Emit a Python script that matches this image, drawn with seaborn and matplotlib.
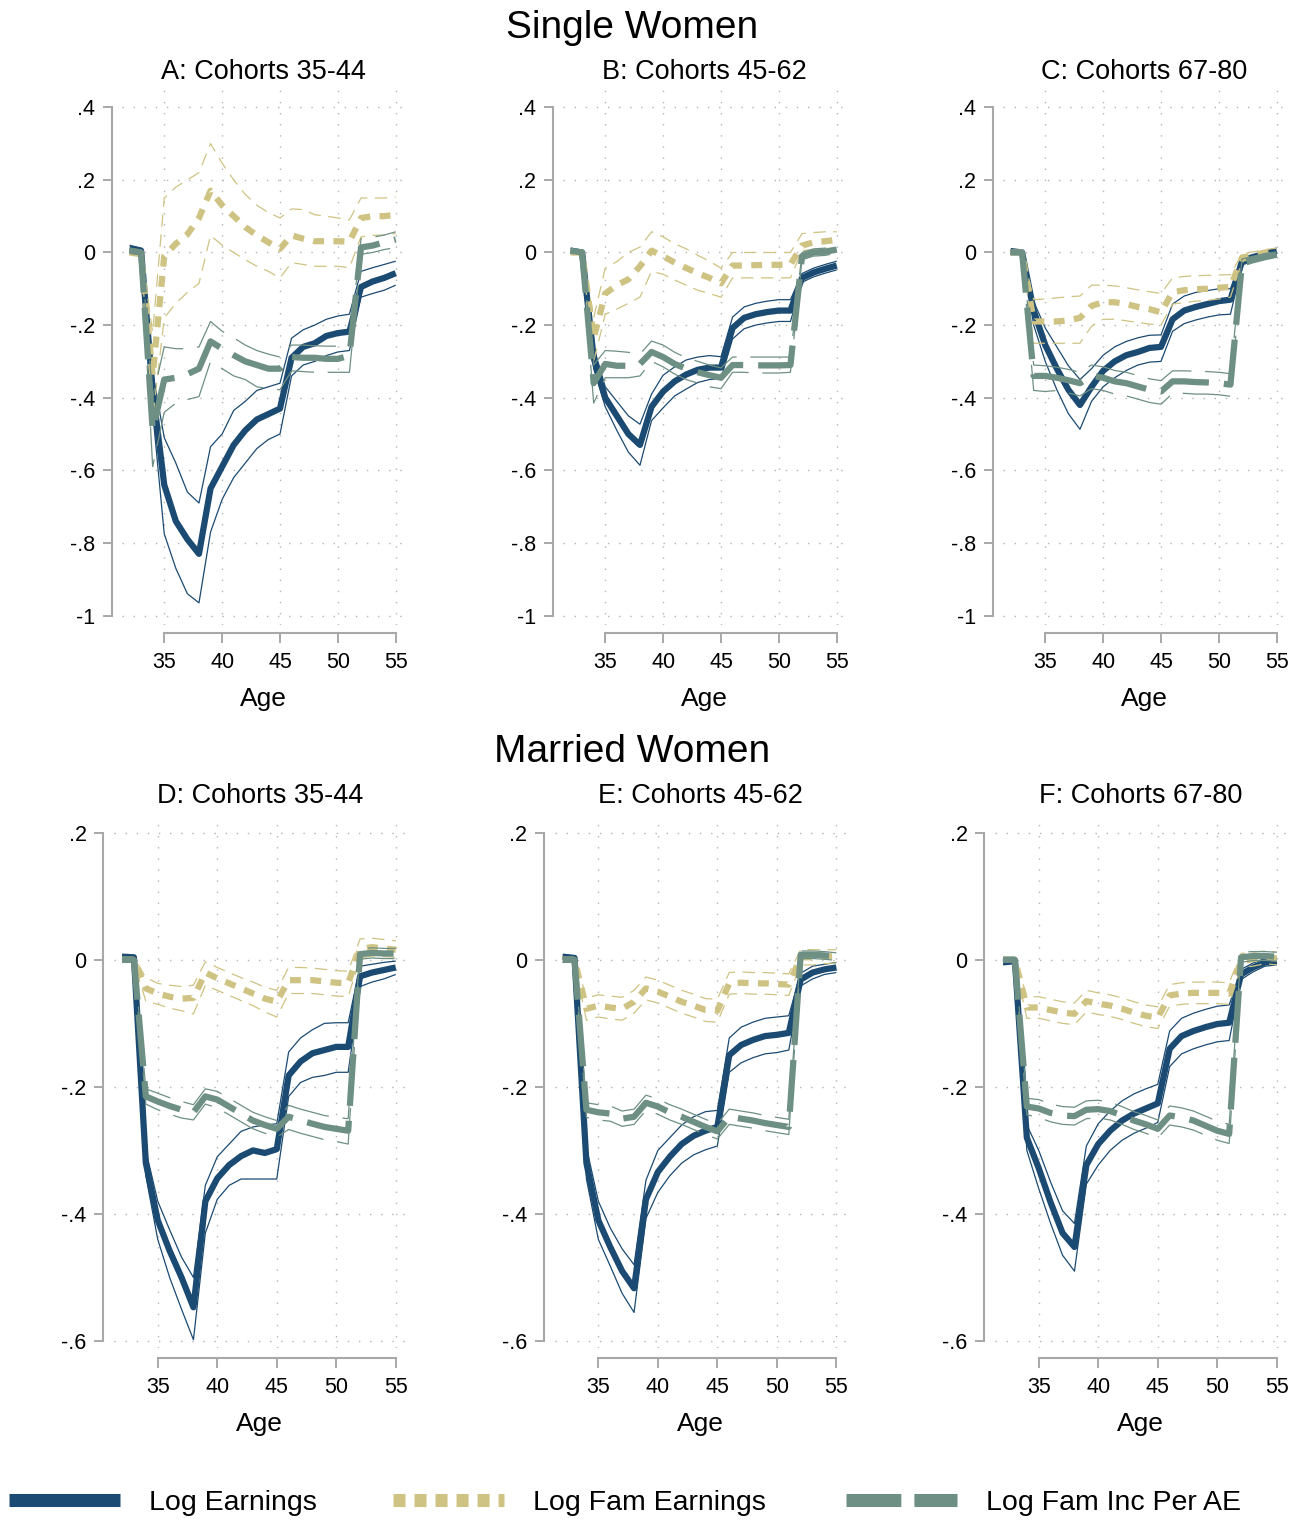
import matplotlib
matplotlib.use('Agg')
import numpy as np
import pandas as pd
import matplotlib.pyplot as plt
from matplotlib.lines import Line2D
import seaborn as sns

ages = list(range(32, 56))

# ---------------- Single women ----------------
earnA = [0.01, 0.005, -0.38, -0.64, -0.74, -0.79, -0.83, -0.65, -0.59, -0.53, -0.49, -0.46, -0.445, -0.43, -0.29, -0.26, -0.25, -0.23, -0.222, -0.218, -0.095, -0.08, -0.07, -0.057]
earnA_hi = [0.02, 0.012, -0.33, -0.51, -0.58, -0.66, -0.69, -0.535, -0.50, -0.435, -0.41, -0.38, -0.37, -0.36, -0.236, -0.213, -0.20, -0.184, -0.175, -0.17, -0.052, -0.042, -0.033, -0.024]
earnA_lo = [0.0, -0.005, -0.44, -0.775, -0.87, -0.94, -0.965, -0.77, -0.68, -0.62, -0.58, -0.54, -0.515, -0.50, -0.34, -0.31, -0.30, -0.284, -0.274, -0.27, -0.123, -0.113, -0.104, -0.09]
famA = [0.0, -0.005, -0.34, -0.01, 0.024, 0.05, 0.095, 0.17, 0.13, 0.10, 0.07, 0.047, 0.028, 0.01, 0.047, 0.038, 0.031, 0.031, 0.031, 0.03, 0.095, 0.10, 0.10, 0.104]
famA_hi = [0.005, 0.005, -0.22, 0.15, 0.18, 0.20, 0.22, 0.30, 0.246, 0.20, 0.16, 0.13, 0.11, 0.095, 0.12, 0.118, 0.104, 0.10, 0.095, 0.09, 0.15, 0.15, 0.15, 0.153]
famA_lo = [-0.005, -0.01, -0.46, -0.18, -0.14, -0.11, -0.085, 0.047, 0.02, 0.0, -0.02, -0.038, -0.052, -0.07, -0.028, -0.033, -0.038, -0.038, -0.038, -0.042, 0.043, 0.047, 0.048, 0.052]
incA = [0.005, 0.0, -0.49, -0.35, -0.345, -0.335, -0.32, -0.245, -0.265, -0.283, -0.30, -0.31, -0.32, -0.32, -0.288, -0.29, -0.29, -0.293, -0.293, -0.284, 0.014, 0.019, 0.028, 0.036]
incA_hi = [0.012, 0.007, -0.40, -0.26, -0.265, -0.265, -0.26, -0.19, -0.217, -0.235, -0.255, -0.27, -0.28, -0.288, -0.255, -0.255, -0.257, -0.258, -0.258, -0.258, 0.038, 0.042, 0.048, 0.057]
incA_lo = [-0.002, -0.007, -0.59, -0.44, -0.415, -0.405, -0.397, -0.30, -0.32, -0.34, -0.35, -0.37, -0.375, -0.378, -0.326, -0.328, -0.33, -0.33, -0.33, -0.33, -0.005, 0.0, 0.008, 0.014]

earnB = [0.005, 0.0, -0.29, -0.40, -0.45, -0.50, -0.53, -0.425, -0.383, -0.355, -0.336, -0.323, -0.317, -0.317, -0.208, -0.18, -0.17, -0.164, -0.16, -0.16, -0.07, -0.055, -0.045, -0.036]
earnB_hi = [0.012, 0.005, -0.26, -0.37, -0.41, -0.45, -0.473, -0.39, -0.338, -0.315, -0.296, -0.288, -0.284, -0.287, -0.178, -0.15, -0.14, -0.134, -0.13, -0.13, -0.058, -0.043, -0.033, -0.024]
earnB_lo = [-0.002, -0.005, -0.32, -0.425, -0.49, -0.55, -0.586, -0.463, -0.428, -0.395, -0.376, -0.358, -0.35, -0.347, -0.238, -0.21, -0.2, -0.194, -0.19, -0.19, -0.082, -0.067, -0.057, -0.048]
famB = [0.0, 0.0, -0.236, -0.113, -0.09, -0.074, -0.038, 0.005, -0.01, -0.028, -0.043, -0.057, -0.07, -0.085, -0.036, -0.036, -0.035, -0.034, -0.034, -0.033, 0.019, 0.028, 0.031, 0.035]
famB_hi = [0.005, 0.005, -0.18, -0.043, -0.025, 0.0, 0.015, 0.057, 0.043, 0.024, 0.01, -0.008, -0.024, -0.043, 0.0, 0.0, 0.0, 0.0, 0.0, 0.0, 0.052, 0.055, 0.057, 0.057]
famB_lo = [-0.005, -0.005, -0.30, -0.17, -0.156, -0.14, -0.123, -0.052, -0.06, -0.076, -0.09, -0.104, -0.113, -0.123, -0.07, -0.07, -0.07, -0.07, -0.07, -0.07, 0.005, 0.008, 0.01, 0.014]
incB = [0.005, 0.0, -0.36, -0.307, -0.312, -0.312, -0.307, -0.274, -0.288, -0.307, -0.32, -0.33, -0.338, -0.345, -0.31, -0.31, -0.311, -0.311, -0.311, -0.31, -0.01, 0.0, 0.002, 0.008]
incB_hi = [0.01, 0.005, -0.31, -0.27, -0.272, -0.275, -0.28, -0.244, -0.255, -0.275, -0.29, -0.3, -0.31, -0.318, -0.288, -0.288, -0.288, -0.288, -0.288, -0.288, 0.0, 0.01, 0.012, 0.018]
incB_lo = [0.0, -0.005, -0.415, -0.345, -0.345, -0.345, -0.34, -0.30, -0.315, -0.335, -0.35, -0.36, -0.37, -0.375, -0.33, -0.33, -0.332, -0.332, -0.332, -0.33, -0.02, -0.01, -0.008, -0.002]

earnC = [0.004, 0.0, -0.16, -0.255, -0.32, -0.378, -0.42, -0.37, -0.326, -0.30, -0.283, -0.274, -0.263, -0.26, -0.184, -0.16, -0.15, -0.142, -0.134, -0.13, -0.024, -0.014, -0.005, 0.005]
earnC_hi = [0.008, 0.004, -0.135, -0.208, -0.26, -0.312, -0.35, -0.32, -0.283, -0.26, -0.245, -0.235, -0.228, -0.227, -0.142, -0.12, -0.11, -0.105, -0.1, -0.1, -0.014, -0.005, 0.004, 0.012]
earnC_lo = [0.0, -0.004, -0.2, -0.30, -0.378, -0.444, -0.487, -0.41, -0.37, -0.345, -0.325, -0.31, -0.302, -0.3, -0.217, -0.196, -0.186, -0.178, -0.172, -0.17, -0.034, -0.024, -0.014, -0.004]
famC = [0.0, 0.0, -0.19, -0.19, -0.19, -0.187, -0.18, -0.147, -0.137, -0.137, -0.142, -0.15, -0.156, -0.165, -0.109, -0.104, -0.101, -0.1, -0.097, -0.095, -0.014, -0.008, 0.0, 0.005]
famC_hi = [0.005, 0.005, -0.13, -0.128, -0.125, -0.122, -0.12, -0.09, -0.09, -0.092, -0.097, -0.103, -0.108, -0.113, -0.07, -0.066, -0.064, -0.063, -0.062, -0.061, -0.004, 0.002, 0.008, 0.012]
famC_lo = [-0.005, -0.005, -0.25, -0.25, -0.25, -0.25, -0.25, -0.203, -0.184, -0.184, -0.188, -0.193, -0.197, -0.2, -0.142, -0.138, -0.134, -0.132, -0.128, -0.123, -0.024, -0.018, -0.01, -0.004]
incC = [0.0, 0.0, -0.34, -0.34, -0.345, -0.352, -0.36, -0.34, -0.345, -0.355, -0.36, -0.369, -0.378, -0.383, -0.355, -0.355, -0.357, -0.358, -0.36, -0.364, -0.028, -0.019, -0.011, -0.005]
incC_hi = [0.005, 0.005, -0.31, -0.312, -0.316, -0.322, -0.33, -0.31, -0.315, -0.325, -0.33, -0.339, -0.348, -0.353, -0.326, -0.326, -0.327, -0.328, -0.33, -0.334, -0.018, -0.01, -0.003, 0.003]
incC_lo = [-0.005, -0.005, -0.38, -0.383, -0.38, -0.387, -0.395, -0.375, -0.38, -0.39, -0.395, -0.404, -0.413, -0.418, -0.388, -0.388, -0.39, -0.39, -0.392, -0.396, -0.038, -0.028, -0.02, -0.013]

# ---------------- Married women ----------------
earnD = [0.005, 0.004, -0.32, -0.41, -0.458, -0.50, -0.547, -0.38, -0.344, -0.323, -0.309, -0.30, -0.304, -0.298, -0.182, -0.16, -0.147, -0.142, -0.137, -0.137, -0.026, -0.02, -0.016, -0.012]
earnD_hi = [0.008, 0.007, -0.30, -0.38, -0.425, -0.468, -0.50, -0.355, -0.31, -0.29, -0.27, -0.263, -0.26, -0.258, -0.145, -0.123, -0.11, -0.1, -0.099, -0.099, -0.01, -0.007, -0.004, -0.002]
earnD_lo = [0.002, 0.001, -0.34, -0.44, -0.50, -0.55, -0.598, -0.43, -0.377, -0.355, -0.345, -0.345, -0.345, -0.345, -0.215, -0.193, -0.185, -0.182, -0.177, -0.177, -0.042, -0.035, -0.03, -0.023]
famD = [0.0, 0.0, -0.045, -0.053, -0.058, -0.061, -0.06, -0.02, -0.029, -0.037, -0.045, -0.053, -0.061, -0.066, -0.032, -0.032, -0.032, -0.034, -0.036, -0.037, 0.017, 0.02, 0.018, 0.016]
famD_hi = [0.004, 0.004, -0.028, -0.037, -0.04, -0.042, -0.04, -0.003, -0.012, -0.02, -0.028, -0.035, -0.043, -0.048, -0.012, -0.012, -0.013, -0.015, -0.017, -0.018, 0.033, 0.034, 0.032, 0.03]
famD_lo = [-0.004, -0.004, -0.065, -0.07, -0.076, -0.08, -0.085, -0.04, -0.048, -0.056, -0.064, -0.072, -0.082, -0.09, -0.053, -0.053, -0.053, -0.055, -0.057, -0.058, 0.003, 0.006, 0.005, 0.004]
incD = [0.0, 0.0, -0.215, -0.223, -0.23, -0.236, -0.24, -0.215, -0.22, -0.231, -0.242, -0.253, -0.26, -0.266, -0.247, -0.253, -0.258, -0.263, -0.266, -0.269, 0.009, 0.011, 0.01, 0.01]
incD_hi = [0.004, 0.004, -0.203, -0.21, -0.217, -0.223, -0.228, -0.203, -0.207, -0.218, -0.229, -0.24, -0.247, -0.253, -0.229, -0.235, -0.24, -0.245, -0.248, -0.25, 0.017, 0.019, 0.018, 0.018]
incD_lo = [-0.004, -0.004, -0.227, -0.236, -0.243, -0.249, -0.252, -0.227, -0.233, -0.244, -0.255, -0.266, -0.273, -0.279, -0.267, -0.273, -0.278, -0.283, -0.286, -0.29, 0.001, 0.003, 0.002, 0.002]

earnE = [0.005, 0.003, -0.32, -0.41, -0.452, -0.49, -0.517, -0.377, -0.334, -0.31, -0.29, -0.277, -0.269, -0.263, -0.15, -0.134, -0.126, -0.12, -0.118, -0.115, -0.031, -0.02, -0.015, -0.012]
earnE_hi = [0.008, 0.006, -0.295, -0.38, -0.422, -0.455, -0.48, -0.347, -0.30, -0.28, -0.26, -0.247, -0.239, -0.237, -0.123, -0.106, -0.098, -0.092, -0.09, -0.088, -0.021, -0.01, -0.007, -0.004]
earnE_lo = [0.002, 0.0, -0.345, -0.44, -0.482, -0.525, -0.555, -0.407, -0.366, -0.34, -0.32, -0.307, -0.299, -0.293, -0.177, -0.162, -0.154, -0.148, -0.146, -0.142, -0.041, -0.03, -0.023, -0.02]
famE = [0.0, 0.0, -0.077, -0.072, -0.075, -0.077, -0.066, -0.045, -0.05, -0.058, -0.066, -0.072, -0.079, -0.08, -0.037, -0.036, -0.037, -0.037, -0.038, -0.039, 0.004, 0.004, 0.005, 0.006]
famE_hi = [0.004, 0.004, -0.06, -0.055, -0.057, -0.059, -0.048, -0.027, -0.032, -0.04, -0.048, -0.054, -0.061, -0.062, -0.02, -0.019, -0.02, -0.02, -0.021, -0.022, 0.016, 0.016, 0.016, 0.016]
famE_lo = [-0.004, -0.004, -0.095, -0.09, -0.093, -0.095, -0.084, -0.063, -0.068, -0.076, -0.084, -0.09, -0.097, -0.098, -0.054, -0.053, -0.054, -0.054, -0.055, -0.056, -0.008, -0.008, -0.006, -0.005]
incE = [0.0, 0.0, -0.236, -0.24, -0.242, -0.25, -0.247, -0.225, -0.231, -0.24, -0.247, -0.255, -0.263, -0.27, -0.247, -0.25, -0.253, -0.257, -0.26, -0.263, 0.008, 0.008, 0.007, 0.005]
incE_hi = [0.004, 0.004, -0.225, -0.228, -0.23, -0.238, -0.235, -0.213, -0.219, -0.228, -0.235, -0.243, -0.251, -0.258, -0.235, -0.238, -0.241, -0.245, -0.248, -0.251, 0.014, 0.014, 0.013, 0.011]
incE_lo = [-0.004, -0.004, -0.248, -0.252, -0.254, -0.262, -0.259, -0.237, -0.243, -0.252, -0.259, -0.267, -0.275, -0.282, -0.259, -0.262, -0.265, -0.269, -0.272, -0.275, 0.002, 0.002, 0.001, -0.001]

earnF = [-0.004, -0.002, -0.28, -0.328, -0.382, -0.43, -0.452, -0.323, -0.29, -0.269, -0.253, -0.242, -0.234, -0.226, -0.14, -0.12, -0.112, -0.106, -0.101, -0.099, -0.023, -0.012, -0.004, -0.002]
earnF_hi = [-0.001, 0.001, -0.26, -0.30, -0.35, -0.395, -0.415, -0.293, -0.258, -0.238, -0.222, -0.211, -0.203, -0.196, -0.112, -0.092, -0.084, -0.078, -0.073, -0.071, -0.015, -0.005, 0.002, 0.004]
earnF_lo = [-0.007, -0.005, -0.30, -0.36, -0.415, -0.465, -0.49, -0.353, -0.323, -0.3, -0.284, -0.273, -0.265, -0.256, -0.168, -0.148, -0.14, -0.134, -0.129, -0.127, -0.031, -0.019, -0.01, -0.008]
famF = [0.0, 0.0, -0.075, -0.075, -0.079, -0.083, -0.085, -0.065, -0.069, -0.072, -0.077, -0.083, -0.088, -0.091, -0.056, -0.053, -0.052, -0.052, -0.052, -0.053, -0.002, 0.001, 0.004, 0.002]
famF_hi = [0.004, 0.004, -0.058, -0.058, -0.062, -0.066, -0.068, -0.048, -0.052, -0.055, -0.06, -0.066, -0.071, -0.074, -0.039, -0.036, -0.035, -0.035, -0.035, -0.036, 0.01, 0.012, 0.014, 0.012]
famF_lo = [-0.004, -0.004, -0.092, -0.092, -0.096, -0.1, -0.102, -0.082, -0.086, -0.089, -0.094, -0.1, -0.105, -0.108, -0.073, -0.07, -0.069, -0.069, -0.069, -0.07, -0.012, -0.01, -0.006, -0.008]
incF = [0.0, 0.0, -0.231, -0.234, -0.241, -0.245, -0.246, -0.236, -0.235, -0.238, -0.245, -0.253, -0.259, -0.266, -0.245, -0.248, -0.253, -0.261, -0.269, -0.274, 0.004, 0.006, 0.006, 0.005]
incF_hi = [0.004, 0.004, -0.218, -0.22, -0.227, -0.231, -0.232, -0.222, -0.221, -0.224, -0.231, -0.239, -0.245, -0.252, -0.23, -0.233, -0.238, -0.246, -0.254, -0.259, 0.012, 0.013, 0.013, 0.012]
incF_lo = [-0.004, -0.004, -0.244, -0.248, -0.255, -0.259, -0.26, -0.25, -0.249, -0.252, -0.259, -0.267, -0.273, -0.28, -0.26, -0.263, -0.268, -0.276, -0.284, -0.289, -0.004, -0.001, -0.001, -0.002]

titles = ["A: Cohorts 35-44", "B: Cohorts 45-62", "C: Cohorts 67-80",
          "D: Cohorts 35-44", "E: Cohorts 45-62", "F: Cohorts 67-80"]
series_labels = ["Log Earnings", "Log Fam Earnings", "Log Fam Inc Per AE"]
x_ticks = [35, 40, 45, 50, 55]
y_ticks_single = [-1, -0.8, -0.6, -0.4, -0.2, 0, 0.2, 0.4]
y_labels_single = ["-1", "-.8", "-.6", "-.4", "-.2", "0", ".2", ".4"]
y_ticks_married = [-0.6, -0.4, -0.2, 0, 0.2]
y_labels_married = ["-.6", "-.4", "-.2", "0", ".2"]

panels = [
    (earnA, earnA_lo, earnA_hi, famA, famA_lo, famA_hi, incA, incA_lo, incA_hi),
    (earnB, earnB_lo, earnB_hi, famB, famB_lo, famB_hi, incB, incB_lo, incB_hi),
    (earnC, earnC_lo, earnC_hi, famC, famC_lo, famC_hi, incC, incC_lo, incC_hi),
    (earnD, earnD_lo, earnD_hi, famD, famD_lo, famD_hi, incD, incD_lo, incD_hi),
    (earnE, earnE_lo, earnE_hi, famE, famE_lo, famE_hi, incE, incE_lo, incE_hi),
    (earnF, earnF_lo, earnF_hi, famF, famF_lo, famF_hi, incF, incF_lo, incF_hi),
]

# ---------------- style ----------------
sns.set_theme(style="white")
plt.rcParams['font.family'] = ['Liberation Sans', 'DejaVu Sans']
plt.rcParams['lines.solid_capstyle'] = 'butt'
plt.rcParams['lines.dash_capstyle'] = 'butt'
plt.rcParams['text.color'] = 'black'
plt.rcParams['axes.labelcolor'] = 'black'
plt.rcParams['axes.titlecolor'] = 'black'

BLUE = '#1b4a72'
KHAKI = '#cfc383'
GREEN = '#6e8f83'
AXCOL = '#a8a8a8'

MAIN_LW = 4.5
CI_LW = 0.9
styles = [
    dict(color=BLUE, main_ls='-', ci_ls='-'),
    dict(color=KHAKI, main_ls=(0, (1.75, 1.5)), ci_ls=(0, (10, 6))),
    dict(color=GREEN, main_ls=(0, (8.3, 2.4)), ci_ls=(0, (38, 11))),
]

W, H = 1304, 1522
fig = plt.figure(figsize=(W / 100, H / 100), dpi=100)


def add_ax(left, top, width, height):
    return fig.add_axes([left / W, 1 - (top + height) / H, width / W, height / H])


for i, vals in enumerate(panels):
    row, col = divmod(i, 3)
    if row == 0:
        ax = add_ax([122, 563, 1003][col], 88, 283, 537)
        ylim = (-1.026, 0.453)
        yt, yl = y_ticks_single, y_labels_single
        loff, boff, tpad = 7.2, 5.8, 6.5
    else:
        ax = add_ax([114.3, 554.9, 995.3][col], 815, 291, 533)
        ylim = (-0.611, 0.228)
        yt, yl = y_ticks_married, y_labels_married
        loff, boff, tpad = 7.9, 7.2, 8.7

    df = pd.DataFrame({
        'Age': ages,
        'earn': vals[0], 'earn_lo': vals[1], 'earn_hi': vals[2],
        'fam': vals[3], 'fam_lo': vals[4], 'fam_hi': vals[5],
        'inc': vals[6], 'inc_lo': vals[7], 'inc_hi': vals[8],
    })
    for key, st in zip(['earn', 'fam', 'inc'], styles):
        for suffix in ['_lo', '_hi']:
            sns.lineplot(data=df, x='Age', y=key + suffix, ax=ax, color=st['color'],
                         lw=CI_LW, linestyle=st['ci_ls'], errorbar=None)
        sns.lineplot(data=df, x='Age', y=key, ax=ax, color=st['color'],
                     lw=MAIN_LW, linestyle=st['main_ls'], errorbar=None)

    ax.set_xlim(31.35, 55.8)
    ax.set_ylim(*ylim)
    ax.set_xticks(x_ticks)
    ax.set_xticklabels([str(t) for t in x_ticks])
    ax.set_yticks(yt)
    ax.set_yticklabels(yl)
    ax.grid(True, linestyle=(0, (1, 7)), color='#b4b4b4', linewidth=1.0)
    ax.set_axisbelow(True)
    for s in ['top', 'right']:
        ax.spines[s].set_visible(False)
    ax.spines['left'].set_position(('outward', loff))
    ax.spines['bottom'].set_position(('outward', boff))
    ax.spines['left'].set_bounds(yt[0], yt[-1])
    ax.spines['bottom'].set_bounds(35, 55)
    for s in ['left', 'bottom']:
        ax.spines[s].set_color(AXCOL)
        ax.spines[s].set_linewidth(1.5)
    ax.tick_params(axis='both', which='major', bottom=True, left=True, direction='out',
                   width=1.4, color=AXCOL, labelsize=15.5, labelcolor='black')
    ax.tick_params(axis='y', length=6.5, pad=5.5)
    ax.tick_params(axis='x', length=7.2, pad=6.5)
    ax.set_ylabel('')
    ax.set_xlabel('Age', fontsize=19, labelpad=10, color='black')
    ax.set_title(titles[i], fontsize=19.5, pad=tpad, color='black')

fig.text(632 / W, 1 - 38 / H, 'Single Women', ha='center', va='baseline', fontsize=28, color='black')
fig.text(632 / W, 1 - 762 / H, 'Married Women', ha='center', va='baseline', fontsize=28, color='black')

# ---------------- legend ----------------
LEG_LW = 9.4
FS = 20.5
em = FS / 72 * 100
leg_handles = [
    Line2D([], [], color=BLUE, lw=LEG_LW, linestyle='-'),
    Line2D([], [], color=KHAKI, lw=LEG_LW, linestyle=(0, (0.92, 0.69))),
    Line2D([], [], color=GREEN, lw=LEG_LW, linestyle=(0, (4.2, 1.0))),
]
leg_x = [9, 393, 846]
for h, lab, x0 in zip(leg_handles, series_labels, leg_x):
    leg = fig.legend([h], [lab], loc='center left', bbox_to_anchor=(x0 / W, 1 - 1503 / H),
                     frameon=False, fontsize=FS, handlelength=111 / em,
                     handletextpad=29 / em, borderpad=0, borderaxespad=0,
                     labelcolor='black')

fig.savefig('out.png', dpi=100, facecolor='white')
